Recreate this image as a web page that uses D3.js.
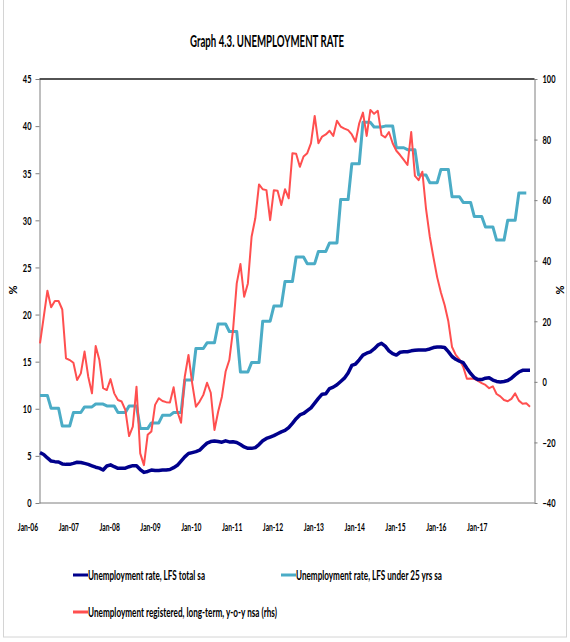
<!DOCTYPE html>
<html>
<head>
<meta charset="utf-8">
<script src="https://cdn.jsdelivr.net/npm/d3@7"></script>
<style>
  body { margin: 0; background: #fff; }
  svg text { font-family: Lato, "Open Sans", sans-serif; fill: #000; }
</style>
</head>
<body>
<div id="chart"></div>
<script>
// monthly, Jan-06 .. Jan-17
var lfsTotal = [
  5.34, 5.15, 4.78, 4.45, 4.39, 4.35, 4.15, 4.1, 4.1, 4.2, 4.32, 4.3,
  4.2, 4.1, 3.95, 3.8, 3.7, 3.5, 3.93, 4.05, 3.85, 3.68, 3.68, 3.7,
  3.85, 3.96, 3.95, 3.55, 3.25, 3.35, 3.5, 3.45, 3.45, 3.5, 3.5, 3.55,
  3.75, 4.0, 4.45, 4.9, 5.25, 5.35, 5.45, 5.6, 6.0, 6.35, 6.52, 6.58,
  6.52, 6.45, 6.6, 6.48, 6.5, 6.42, 6.2, 5.95, 5.8, 5.8, 5.88, 6.2,
  6.6, 6.85, 7.0, 7.15, 7.35, 7.55, 7.7, 8.0, 8.45, 8.95, 9.35, 9.5,
  9.8, 10.1, 10.6, 11.1, 11.55, 11.6, 12.15, 12.3, 12.55, 12.9, 13.25, 13.8,
  14.6, 14.75, 15.2, 15.7, 15.9, 16.05, 16.35, 16.75, 16.95, 16.65, 16.15, 15.85,
  15.7, 16.0, 16.05, 16.05, 16.15, 16.2, 16.25, 16.25, 16.25, 16.35, 16.5, 16.55,
  16.55, 16.5, 16.06, 15.55, 15.25, 15.05, 14.9, 14.3, 13.75, 13.3, 13.1, 13.1,
  13.25, 13.3, 13.05, 12.9, 12.85, 12.9, 13.0, 13.25, 13.6, 13.9, 14.08, 14.08,
  14.08
];

// quarterly, 2006Q1 .. 2016Q4
var lfsYouthQ = [
  11.4, 10.05, 8.17, 9.6, 10.2, 10.5, 10.3, 9.6, 10.3, 7.9, 8.5, 9.3,
  9.6, 13.05, 16.4, 17.0, 19.0, 18.2, 13.9, 14.9, 19.3, 20.9, 23.5, 26.1,
  25.4, 26.7, 27.6, 32.2, 36.0, 40.4, 39.9, 40.0, 37.7, 37.5, 34.8, 34.0,
  35.4, 32.5, 31.9, 30.4, 29.3, 27.9, 30.0, 32.9
];

// monthly, Jan-06 .. Jan-17, right axis
var regLongTerm = [
  12.7, 21.4, 30.1, 24.6, 26.7, 26.7, 23.9, 7.8, 7.2, 6.3, 0.6, 2.8,
  10, 1.7, -3.8, 11.8, 7.2, -2.1, -2.7, 0.9, -3.8, -6, -6.5, -9.3,
  -17.9, -14.8, -1.6, -23.6, -27.5, -17.5, -16.4, -7.6, -5.4, -6.3, -6.7, -6.8,
  -1.8, -9.8, -13.5, 1.7, 8.9, -0.5, -8.2, -6.5, -4.3, -0.3, -3.6, -15.9,
  -9.8, -4.9, 3.4, 7.2, 17.1, 32.5, 38.9, 28.1, 32.5, 47.9, 54, 65.2,
  63.6, 63.3, 53.4, 63.3, 63.1, 58.4, 63.6, 60.6, 75.5, 75.3, 71, 74.4,
  75.5, 78.8, 87.8, 78.8, 81, 81.7, 82.9, 81.2, 86.2, 84.3, 83.6, 83.1,
  81.7, 79.3, 85.4, 88.9, 81.2, 89.8, 88.5, 89.5, 81.5, 80.7, 82.5, 78.8,
  76.3, 74.9, 73.3, 71.6, 82.5, 68, 66.6, 69.4, 57, 48, 41, 34.5,
  29.5, 25.4, 20, 11.5, 8.9, 7.4, 5, 1, 1.1, 1, 0.3, -0.4,
  -1, -2.1, -1.5, -4, -4.8, -6, -6.4, -5.6, -3.8, -6.2, -7.2, -7.1,
  -8.2
];

var leftTicks = d3.range(0, 46, 5);
var rightTicks = d3.range(-40, 101, 20);
var xLabels = ["Jan-06", "Jan-07", "Jan-08", "Jan-09", "Jan-10", "Jan-11",
  "Jan-12", "Jan-13", "Jan-14", "Jan-15", "Jan-16", "Jan-17"];
var labelStep = 11;

var seriesNames = [
  "Unemployment rate, LFS total sa",
  "Unemployment rate, LFS under 25 yrs sa",
  "Unemployment registered, long-term, y-o-y nsa (rhs)"
];
var seriesColors = ["#00008c", "#4bacc6", "#ff4f4f"];

var width = 570, height = 642;

// squash glyphs to match the narrow look of the source
function squeeze(sel, k) {
  sel.each(function() {
    var w = this.getComputedTextLength();
    d3.select(this).attr("textLength", w * k).attr("lengthAdjust", "spacingAndGlyphs");
  });
}
function fitWidth(sel, w) {
  sel.attr("textLength", w).attr("lengthAdjust", "spacingAndGlyphs");
}

var svg = d3.select("#chart").append("svg")
  .attr("width", width)
  .attr("height", height);

svg.append("rect")
  .attr("x", 3.5).attr("y", -2)
  .attr("width", 563).attr("height", 639)
  .attr("fill", "none")
  .attr("stroke", "#d4d4d4");

var x = d3.scaleLinear().domain([0, lfsTotal.length - 1]).range([40, 530]);
var yL = d3.scaleLinear().domain([0, 45]).range([503, 79]);
var yR = d3.scaleLinear().domain([-40, 100]).range([503, 79]);
var plotLeft = 39.5, plotRight = 534.5;

svg.append("text")
  .attr("x", 267).attr("y", 47)
  .attr("text-anchor", "middle")
  .style("font-size", "17px")
  .style("font-weight", "bold")
  .text("Graph 4.3. UNEMPLOYMENT RATE")
  .call(fitWidth, 154);

// axes
var gL = svg.append("g")
  .attr("transform", "translate(" + plotLeft + ",0)")
  .call(d3.axisLeft(yL).tickValues(leftTicks).tickSize(4).tickSizeOuter(0).tickPadding(4));
var gR = svg.append("g")
  .attr("transform", "translate(" + plotRight + ",0)")
  .call(d3.axisRight(yR).tickValues(rightTicks).tickSize(3).tickSizeOuter(0).tickPadding(5));

[gL, gR].forEach(function(g) {
  g.select(".domain").attr("stroke", "#7f7f7f");
  g.selectAll(".tick line").attr("stroke", "#7f7f7f");
  g.selectAll(".tick text")
    .attr("fill", "#000")
    .style("font-size", "12px")
    .style("font-weight", "bold")
    .style("font-family", "Lato, sans-serif")
    .call(squeeze, 0.62);
});

svg.append("line")
  .attr("x1", plotLeft).attr("x2", plotRight)
  .attr("y1", yL(0)).attr("y2", yL(0))
  .attr("stroke", "#7f7f7f");
svg.append("line")
  .attr("x1", plotLeft).attr("x2", plotRight)
  .attr("y1", yL(45)).attr("y2", yL(45))
  .attr("stroke", "#1a1a1a").attr("stroke-width", 1.3);

svg.selectAll("text.xlab")
  .data(xLabels)
  .enter()
  .append("text")
  .attr("class", "xlab")
  .attr("x", function(d, i) { return x(i * labelStep) - 12; })
  .attr("y", 531)
  .attr("text-anchor", "middle")
  .style("font-size", "12px")
  .style("font-weight", "bold")
  .text(function(d) { return d; })
  .call(squeeze, 0.56);

svg.append("text")
  .attr("transform", "translate(17,290) rotate(-90)")
  .attr("text-anchor", "middle")
  .style("font-size", "11px")
  .style("font-weight", "bold")
  .text("%");
svg.append("text")
  .attr("transform", "translate(556,290) rotate(90)")
  .attr("text-anchor", "middle")
  .style("font-size", "11px")
  .style("font-weight", "bold")
  .text("%");

// lines
var lineL = d3.line()
  .x(function(d, i) { return x(i); })
  .y(function(d) { return yL(d); });
var lineR = d3.line()
  .x(function(d, i) { return x(i); })
  .y(function(d) { return yR(d); });

var youthMonthly = d3.range(lfsYouthQ.length * 3).map(function(m) {
  return lfsYouthQ[Math.floor(m / 3)];
});

svg.append("path")
  .datum(youthMonthly)
  .attr("d", lineL)
  .attr("fill", "none")
  .attr("stroke", seriesColors[1])
  .attr("stroke-width", 3)
  .attr("stroke-linejoin", "round");

svg.append("path")
  .datum(regLongTerm)
  .attr("d", lineR)
  .attr("fill", "none")
  .attr("stroke", seriesColors[2])
  .attr("stroke-width", 2)
  .attr("stroke-linejoin", "round");

svg.append("path")
  .datum(lfsTotal)
  .attr("d", lineL)
  .attr("fill", "none")
  .attr("stroke", seriesColors[0])
  .attr("stroke-width", 3.5)
  .attr("stroke-linejoin", "round");

// legend
var legendPos = [[73, 575], [281, 575], [73, 612]];
var legendWidths = [117, 146, 189];
var legend = svg.selectAll("g.legend")
  .data(seriesNames)
  .enter()
  .append("g")
  .attr("class", "legend")
  .attr("transform", function(d, i) { return "translate(" + legendPos[i][0] + "," + legendPos[i][1] + ")"; });

legend.append("line")
  .attr("x1", 0).attr("x2", 15)
  .attr("stroke", function(d, i) { return seriesColors[i]; })
  .attr("stroke-width", 3);

legend.append("text")
  .attr("x", 15)
  .attr("y", 5)
  .style("font-size", "14px")
  .style("font-weight", "bold")
  .text(function(d) { return d; })
  .each(function(d, i) { d3.select(this).call(fitWidth, legendWidths[i]); });
</script>
</body>
</html>
